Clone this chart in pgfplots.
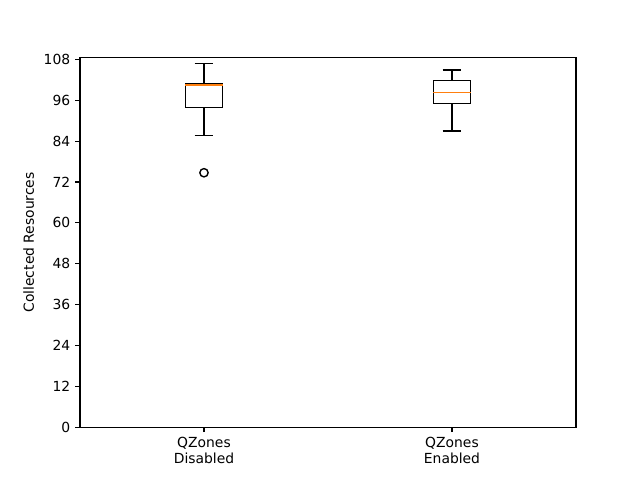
\documentclass[border=0pt]{standalone}
\usepackage{pgfplots}
\pgfplotsset{compat=1.18}
\usepackage{fontspec}
\setmainfont{DejaVu Sans}
\definecolor{mplorange}{HTML}{FF7F0E}
\begin{document}
\begin{tikzpicture}
\path[use as bounding box] (-57.6pt,-38.016pt) rectangle (403.2pt,307.584pt);
\begin{axis}[
  at={(0pt,0pt)}, anchor=south west,
  scale only axis, width=357.1pt, height=266.1pt,
  xmin=0.5, xmax=2.5, ymin=0, ymax=108.5,
  xtick={1,2},
  xticklabels={{QZones\\Disabled},{QZones\\Enabled}},
  xticklabel style={align=center, font=\fontsize{10}{11.5}\selectfont},
  ytick={0,12,...,108},
  yticklabel style={font=\fontsize{10}{12}\selectfont},
  /pgf/number format/assume math mode=true,
  tick align=outside, major tick length=3.5pt,
  xtick pos=left, ytick pos=left,
  ylabel={Collected Resources},
  ylabel style={font=\fontsize{10}{12}\selectfont},
  axis line style={line width=0.8pt},
  every tick/.style={black, line width=0.8pt},
  bx/.style={black, solid, line width=1pt, mark=none, line join=miter},
]
% Box 1: QZones Disabled
\addplot[bx] coordinates {(0.925,93.9) (1.075,93.9) (1.075,100.85) (0.925,100.85) (0.925,93.9)};
\addplot[bx] coordinates {(1,93.9) (1,85.7)};
\addplot[bx] coordinates {(0.9625,85.7) (1.0375,85.7)};
\addplot[bx] coordinates {(1,100.85) (1,106.8)};
\addplot[bx] coordinates {(0.9625,106.8) (1.0375,106.8)};
\addplot[bx, mplorange] coordinates {(0.925,100.5) (1.075,100.5)};
\addplot[black, only marks, mark=o, mark size=3pt, line width=1pt] coordinates {(1,74.7)};
% Box 2: QZones Enabled
\addplot[bx] coordinates {(1.925,95.0) (2.075,95.0) (2.075,101.85) (1.925,101.85) (1.925,95.0)};
\addplot[bx] coordinates {(2,95.0) (2,87.0)};
\addplot[bx] coordinates {(1.9625,87.0) (2.0375,87.0)};
\addplot[bx] coordinates {(2,101.85) (2,104.9)};
\addplot[bx] coordinates {(1.9625,104.9) (2.0375,104.9)};
\addplot[bx, mplorange] coordinates {(1.925,98.3) (2.075,98.3)};
\end{axis}
\end{tikzpicture}
\end{document}
